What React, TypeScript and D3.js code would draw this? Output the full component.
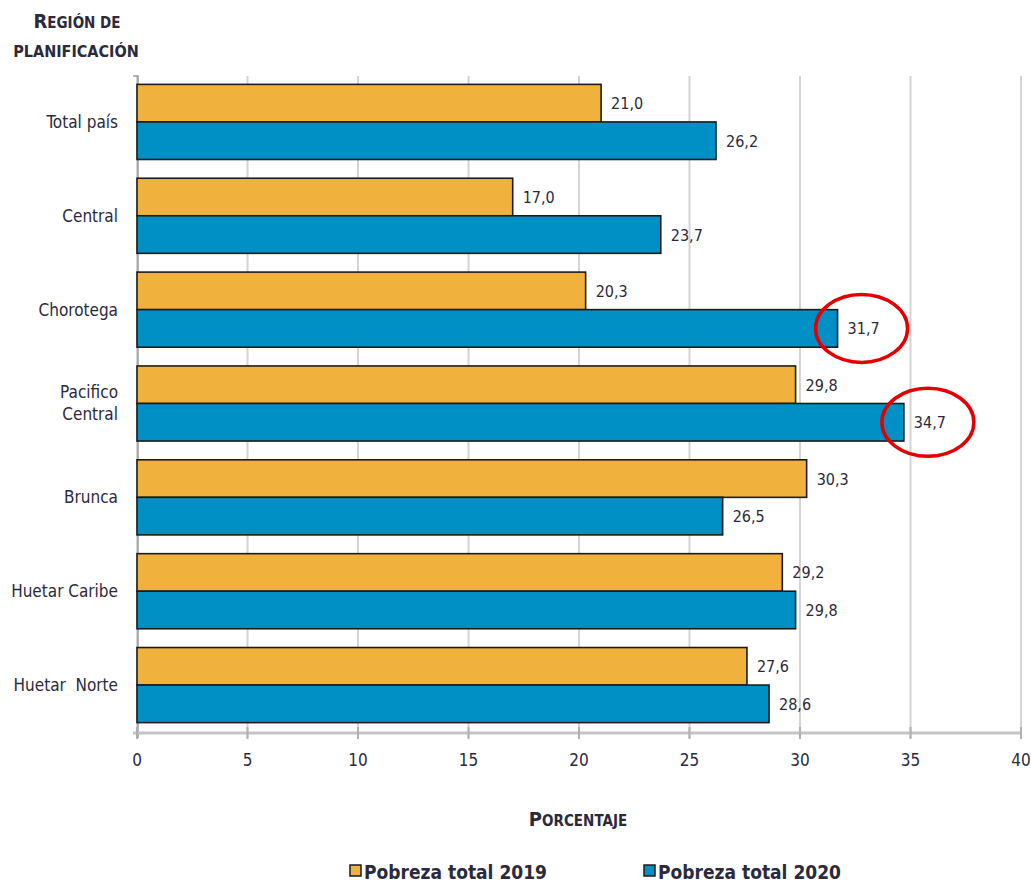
import React from "react";
import * as d3 from "d3";

const categories = ["Total país", "Central", "Chorotega", "Pacifico Central", "Brunca", "Huetar Caribe", "Huetar  Norte"];
const pobreza2019 = [21.0, 17.0, 20.3, 29.8, 30.3, 29.2, 27.6];
const pobreza2020 = [26.2, 23.7, 31.7, 34.7, 26.5, 29.8, 28.6];
const seriesNames = ["Pobreza total 2019", "Pobreza total 2020"];
const xTicks = [0, 5, 10, 15, 20, 25, 30, 35, 40];
const highlighted = ["Chorotega", "Pacifico Central"];

const W = 1031;
const H = 882;
const FONT = "'DejaVu Sans Condensed', 'DejaVu Sans', sans-serif";
const TEXT = "#2b2a3d";
const COLORS = ["#F0B23C", "#0090C6"];

function SmallCaps({ x, y, text, big, small }: { x: number; y: number; text: string; big: number; small: number }) {
  const chars = Array.from(text);
  return (
    <text x={x} y={y} textAnchor="middle" fill={TEXT} fontWeight="bold" style={{ fontStretch: "condensed", whiteSpace: "pre" }}>
      {chars.map((ch, i) => {
        const isUpper = ch !== ch.toLowerCase();
        return (
          <tspan key={i} fontSize={isUpper ? big : small}>{ch.toUpperCase()}</tspan>
        );
      })}
    </text>
  );
}

export default function App() {
  const x = d3.scaleLinear().domain([0, 40]).range([137, 1021]);
  const y = d3.scaleBand<string>().domain(categories).range([75, 732]).paddingInner(0.2).paddingOuter(0.1);
  const sub = d3.scaleBand<number>().domain([0, 1]).range([0, y.bandwidth()]);
  const fmt = (v: number) => v.toFixed(1).replace(".", ",");
  const series = [pobreza2019, pobreza2020];
  const cond = { fontStretch: "condensed" as const };

  return (
    <svg width={W} height={H} style={{ position: "absolute", left: 0, top: 0, background: "#fff" }} fontFamily={FONT}>
      {xTicks.map((t) => (
        <line key={"g" + t} x1={x(t)} x2={x(t)} y1={76} y2={738} stroke="#d4d4d4" strokeWidth={2} />
      ))}
      <path d={`M133,76 H138 V738`} fill="none" stroke="#9a9a9a" strokeWidth={1.5} />
      <line x1={133} x2={1021} y1={733} y2={733} stroke="#c4c4c4" strokeWidth={3} />
      {xTicks.map((t) => (
        <g key={"t" + t}>
          <line x1={x(t)} x2={x(t)} y1={727} y2={739} stroke="#b0b0b0" strokeWidth={2} />
          <text x={x(t)} y={766} textAnchor="middle" fontSize={17} fill={TEXT} style={cond}>{t}</text>
        </g>
      ))}
      {categories.map((c, i) => (
        <g key={c}>
          {series.map((s, k) => {
            const y0 = (y(c) as number) + (sub(k) as number);
            return (
              <g key={k}>
                <rect x={x(0)} y={y0} width={x(s[i]) - x(0)} height={sub.bandwidth()} fill={COLORS[k]} stroke="#1c1c1c" strokeWidth={1.6} />
                <text x={x(s[i]) + 10} y={y0 + sub.bandwidth() / 2 + 6} fontSize={16} fill={TEXT} style={cond}>{fmt(s[i])}</text>
              </g>
            );
          })}
          {c === "Pacifico Central" ? (
            <text x={118} y={(y(c) as number) + y.bandwidth() / 2} textAnchor="end" fontSize={17} fill={TEXT} style={cond}>
              <tspan x={118} dy={-6}>Pacifico</tspan>
              <tspan x={118} dy={22}>Central</tspan>
            </text>
          ) : (
            <text x={118} y={(y(c) as number) + y.bandwidth() / 2 + 6} textAnchor="end" fontSize={17} fill={TEXT} style={{ ...cond, whiteSpace: "pre" }}>{c}</text>
          )}
        </g>
      ))}
      {highlighted.map((c) => {
        const i = categories.indexOf(c);
        const cy = (y(c) as number) + (sub(1) as number) + sub.bandwidth() / 2;
        return <ellipse key={"e" + c} cx={x(pobreza2020[i]) + 24} cy={cy} rx={46} ry={34} fill="none" stroke="#e50000" strokeWidth={3.5} />;
      })}
      <SmallCaps x={77} y={28} text="Región de" big={20} small={15} />
      <SmallCaps x={76} y={57} text="planificación" big={16} small={16} />
      <SmallCaps x={578} y={826} text="Porcentaje" big={20} small={15} />
      {seriesNames.map((n, k) => {
        const lx = k === 0 ? 350 : 644;
        return (
          <g key={n}>
            <rect x={lx} y={865} width={11} height={11} fill={COLORS[k]} stroke="#1c1c1c" strokeWidth={1.5} />
            <text x={lx + 14} y={879} fontSize={19} fontWeight="bold" fill={TEXT} style={cond}>{n}</text>
          </g>
        );
      })}
    </svg>
  );
}
